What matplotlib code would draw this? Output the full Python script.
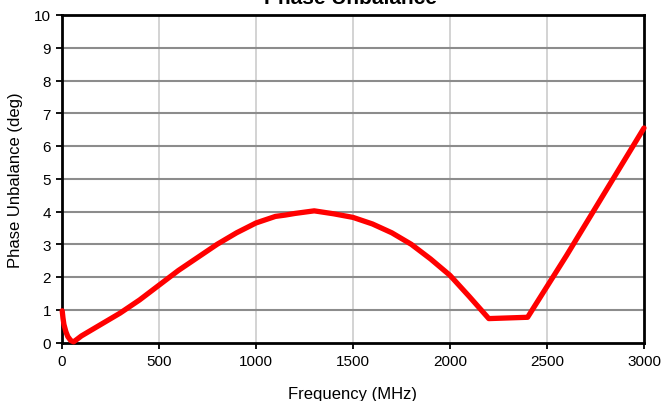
import matplotlib
matplotlib.use("Agg")
import matplotlib.pyplot as plt

plt.rcParams['font.family'] = ['Liberation Sans', 'DejaVu Sans']

# readings
freq_mhz = [1, 5, 10, 20, 30, 45, 60, 100, 200, 300, 400, 500, 600, 700, 800, 900,
            1000, 1100, 1150, 1200, 1250, 1300, 1400, 1500, 1600, 1700, 1800, 1900, 2000,
            2100, 2200, 2400, 2600, 2800, 3000]
phase_deg = [0.97, 0.75, 0.55, 0.33, 0.18, 0.06, 0.02, 0.2, 0.55, 0.9, 1.3, 1.75, 2.2, 2.6,
             3.0, 3.35, 3.65, 3.85, 3.89, 3.94, 3.98, 4.02, 3.93, 3.82, 3.62, 3.35, 3.0,
             2.55, 2.05, 1.4, 0.73, 0.77, 2.65, 4.6, 6.55]
xticks = [0, 500, 1000, 1500, 2000, 2500, 3000]
yticks = list(range(0, 11))

fig = plt.figure(figsize=(6.68, 4.02), dpi=100)
ax = fig.add_axes([62 / 668, 1 - 343.5 / 402, 582 / 668, 327.5 / 402])

for x in xticks[1:-1]:
    ax.axvline(x, color="#d0d0d0", lw=1.3, zorder=1)
for y in yticks[1:-1]:
    ax.axhline(y, color="#8c8c8c", lw=1.5, zorder=1)

ax.plot(freq_mhz, phase_deg, color="#ff0000", lw=3.8, solid_joinstyle="round",
        solid_capstyle="round", zorder=3, clip_on=False)

ax.set_xlim(0, 3000)
ax.set_ylim(0, 10)
ax.set_xticks(xticks)
ax.set_yticks(yticks)
ax.tick_params(direction="out", length=4, width=1.3, labelsize=11, pad=4)
for s in ax.spines.values():
    s.set_linewidth(2)
    s.set_color("black")

ax.set_xlabel("Frequency (MHz)", fontsize=12, labelpad=13)
ax.set_ylabel("Phase Unbalance (deg)", fontsize=12, labelpad=8)
fig.text(351 / 668, 1 - 4.5 / 402, "Phase Unbalance", ha="center", va="baseline",
         fontsize=15, fontweight="bold")

fig.savefig("out.png", dpi=100)
